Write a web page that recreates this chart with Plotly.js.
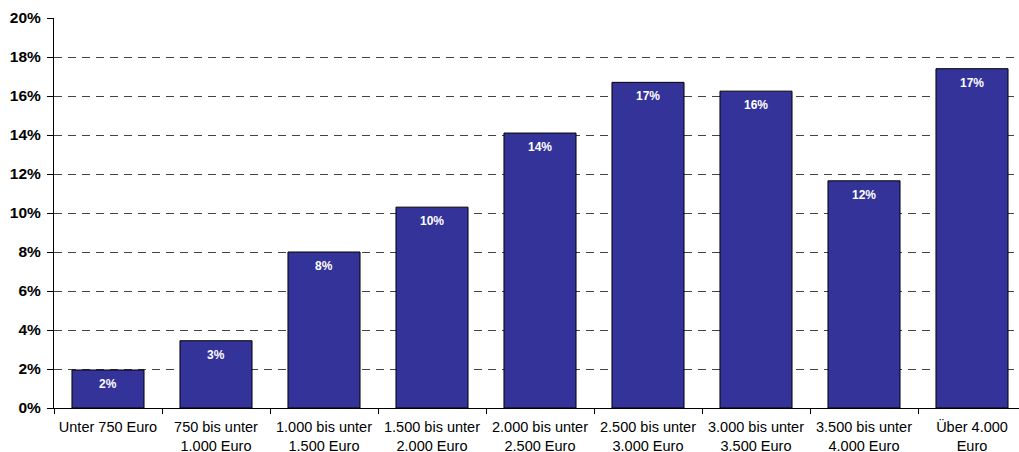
<!DOCTYPE html>
<html>
<head>
<meta charset="utf-8">
<script src="https://cdn.plot.ly/plotly-3.0.1.min.js"></script>
<style>html,body{margin:0;padding:0;background:#fff;}#chart{width:1019px;height:452px;}</style>
</head>
<body>
<div id="chart"></div>
<script>
const categories = [
  "Unter 750 Euro",
  "750 bis unter<br>1.000 Euro",
  "1.000 bis unter<br>1.500 Euro",
  "1.500 bis unter<br>2.000 Euro",
  "2.000 bis unter<br>2.500 Euro",
  "2.500 bis unter<br>3.000 Euro",
  "3.000 bis unter<br>3.500 Euro",
  "3.500 bis unter<br>4.000 Euro",
  "Über 4.000<br>Euro"
];
const shares = [1.95, 3.45, 8.0, 10.3, 14.1, 16.7, 16.25, 11.65, 17.4];
const yTickValues = [0, 2, 4, 6, 8, 10, 12, 14, 16, 18, 20];
const yTickLabels = ["0%", "2%", "4%", "6%", "8%", "10%", "12%", "14%", "16%", "18%", "20%"];

const trace = {
  type: "bar",
  x: categories,
  y: shares,
  marker: {color: "#333399", line: {color: "#000000", width: 1}},
  hoverinfo: "none"
};

const annotations = categories.map((c, i) => ({
  x: c, y: shares[i], xref: "x", yref: "y",
  text: Math.round(shares[i]) + "%",
  showarrow: false, yanchor: "middle", yshift: -14,
  font: {family: "Liberation Sans, Arial, sans-serif", size: 12, color: "#ffffff", weight: "bold"}
}));

const layout = {
  width: 1019, height: 452,
  margin: {l: 54, r: 0, t: 18, b: 44},
  paper_bgcolor: "#ffffff", plot_bgcolor: "#ffffff",
  showlegend: false,
  bargap: 0.333,
  font: {family: "Liberation Sans, Arial, sans-serif", color: "#000000"},
  xaxis: {
    type: "category",
    range: [-0.5, -0.5 + 965/108],
    showline: true, linecolor: "#000000", linewidth: 1,
    ticks: "outside", tickson: "boundaries", ticklen: 5, tickcolor: "#000000",
    showgrid: false, zeroline: false,
    tickfont: {size: 14.5, color: "#000000"},
    ticklabelstandoff: 6,
    automargin: false
  },
  yaxis: {
    range: [0, 20],
    tickvals: yTickValues, ticktext: yTickLabels,
    showline: true, linecolor: "#000000", linewidth: 1,
    ticks: "outside", ticklen: 6, tickcolor: "#000000",
    showgrid: true, gridcolor: "#444444", gridwidth: 1, griddash: "8px,6px",
    zeroline: false,
    tickfont: {size: 15.5, color: "#000000", weight: "bold"},
    ticklabelstandoff: 3,
    automargin: false
  },
  annotations: annotations
};

Plotly.newPlot("chart", [trace], layout, {staticPlot: true, displayModeBar: false});
</script>
</body>
</html>
